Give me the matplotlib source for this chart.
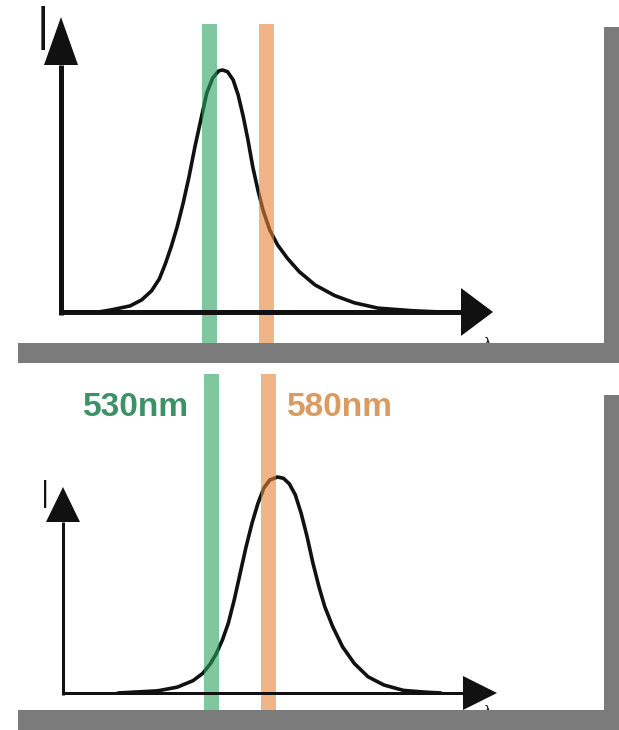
import matplotlib
matplotlib.use("Agg")
import matplotlib.pyplot as plt
import matplotlib.transforms as mtransforms
from matplotlib.patches import Polygon, Rectangle

# ---------------------------------------------------------------- data
BAND_GREEN_NM = 530
BAND_ORANGE_NM = 580
BAND_LABELS = ["530nm", "580nm"]
WL_RANGE = (400, 780)

# top panel: emission peak near 540 nm (relative intensity, peak = 1)
top_wl = [432.8, 443.2, 460.5, 470.8, 479.5, 486.3, 491.6, 496.7, 501.9, 507.1,
          512.3, 517.5, 522.6, 527.8, 533.0, 538.2, 541.6, 546.1, 551.0, 555.4,
          559.9, 564.0, 568.2, 572.7, 577.2, 583.1, 590.0, 598.6, 608.9, 622.8,
          640.0, 657.3, 678.1, 709.1, 733.3]
top_I = [0.000, 0.008, 0.025, 0.050, 0.088, 0.137, 0.200, 0.270, 0.352, 0.449,
         0.559, 0.683, 0.793, 0.904, 0.966, 0.996, 1.000, 0.993, 0.959, 0.897,
         0.807, 0.711, 0.600, 0.504, 0.421, 0.339, 0.277, 0.222, 0.167, 0.112,
         0.068, 0.038, 0.016, 0.005, 0.000]

# bottom panel: emission peak shifted to ~590 nm
bot_wl = [448.3, 482.9, 500.2, 514.0, 522.6, 529.5, 534.6, 539.8, 545.0, 550.2,
          555.4, 560.6, 565.8, 571.0, 576.1, 581.3, 588.2, 593.4, 598.6, 603.8,
          608.9, 614.1, 619.3, 624.5, 629.6, 636.6, 645.2, 655.5, 667.6, 681.5,
          698.7, 717.7, 731.5]
bot_I = [0.000, 0.010, 0.027, 0.057, 0.091, 0.137, 0.184, 0.245, 0.323, 0.431,
         0.554, 0.677, 0.786, 0.878, 0.948, 0.986, 1.000, 0.994, 0.968, 0.917,
         0.832, 0.724, 0.600, 0.492, 0.400, 0.307, 0.214, 0.137, 0.075, 0.037,
         0.012, 0.004, 0.000]

# ---------------------------------------------------------------- layout (pixels, y down)
W, H = 619, 730
GRAY = "#7b7b7b"
INK = "#111111"
GREEN_BAND, ORANGE_BAND, BAND_ALPHA = "#2ba361", "#e68235", 0.6
GREEN_TXT, ORANGE_TXT = "#3d9166", "#d99b5f"
PX_PER_NM = 1.14

fig = plt.figure(figsize=(W / 100, H / 100), dpi=100, facecolor="white")
PX = mtransforms.Affine2D().scale(1 / W, -1 / H).translate(0, 1) + fig.transFigure


def panel(wl, inten, left, base, tip, peak, band_top, band_bot, lw_axis,
          yhead, xhead, i_pos, i_size, lam_y):
    right = left + (WL_RANGE[1] - WL_RANGE[0]) * PX_PER_NM
    ax = fig.add_axes([left / W, 1 - base / H, (right - left) / W, (base - tip) / H])
    ax.set_xlim(*WL_RANGE)
    ax.set_ylim(0, (base - tip) / (base - peak))       # intensity 1 sits at the peak row
    ax.axis("off")
    ax.plot(wl, inten, color=INK, lw=2.6, solid_joinstyle="round",
            solid_capstyle="round", clip_on=False, zorder=3)
    h = base - tip
    for c, nm in ((GREEN_BAND, BAND_GREEN_NM), (ORANGE_BAND, BAND_ORANGE_NM)):
        ax.axvspan(nm - 6.5, nm + 6.5, ymin=(base - band_bot) / h, ymax=(base - band_top) / h,
                   color=c, alpha=BAND_ALPHA, lw=0, clip_on=False, zorder=4)
    # axes drawn as arrows
    lw = lw_axis * 72 / 100
    fig.add_artist(plt.Line2D([left, left], [base + lw_axis / 2, yhead[1]], transform=PX,
                              color=INK, lw=lw, solid_capstyle="butt", zorder=2))
    fig.add_artist(plt.Line2D([left - lw_axis / 2, xhead[0]], [base, base], transform=PX,
                              color=INK, lw=lw, solid_capstyle="butt", zorder=2))
    fig.add_artist(Polygon([(left, yhead[0]), (left - yhead[2], yhead[1]),
                            (left + yhead[2], yhead[1])], closed=True, transform=PX,
                           color=INK, lw=0, zorder=2))
    fig.add_artist(Polygon([(xhead[1], base), (xhead[0], base - xhead[2]),
                            (xhead[0], base + xhead[2])], closed=True, transform=PX,
                           color=INK, lw=0, zorder=2))
    fig.text(i_pos[0] / W, 1 - i_pos[1] / H, "I", ha="center", va="baseline",
             fontsize=i_size, color=INK, family=["Roboto", "DejaVu Sans"], fontweight=300)
    fig.text(487 / W, 1 - lam_y / H, "λ", ha="center", va="top", fontsize=9,
             color=INK, zorder=1)
    return ax


# top panel
panel(top_wl, top_I, left=61, base=312, tip=17, peak=70, band_top=24, band_bot=345,
      lw_axis=5, yhead=(17, 65, 17), xhead=(461, 493, 24), i_pos=(42.5, 50),
      i_size=44, lam_y=337)

# bottom panel
panel(bot_wl, bot_I, left=63, base=693, tip=487, peak=477, band_top=374, band_bot=712,
      lw_axis=3, yhead=(487, 522, 17), xhead=(463, 497, 17), i_pos=(45, 508),
      i_size=28, lam_y=705)

# band labels
for text, x, col in ((BAND_LABELS[0], 83, GREEN_TXT), (BAND_LABELS[1], 287, ORANGE_TXT)):
    fig.text(x / W, 1 - 407 / H, text, ha="left", va="center", fontsize=24,
             fontweight="bold", color=col, family="Liberation Sans")

# gray drop-shadow frames
for top, bottom in ((27, 363), (395, 730)):
    fig.add_artist(Rectangle((604, top), 15, bottom - top, transform=PX,
                             color=GRAY, lw=0, zorder=10))
    fig.add_artist(Rectangle((18, bottom - 20), 601, 20, transform=PX,
                             color=GRAY, lw=0, zorder=10))

fig.savefig("out.png", dpi=100, facecolor="white")
